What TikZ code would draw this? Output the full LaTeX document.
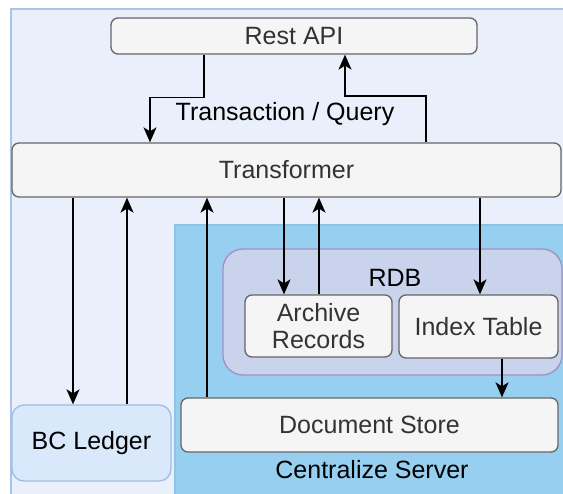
\documentclass[tikz,border=0pt]{standalone}
\usepackage{fontspec}
\setmainfont{Liberation Sans}
\usetikzlibrary{arrows.meta, positioning}
\definecolor{BgFill}{HTML}{E9F0FB}
\definecolor{BgLine}{HTML}{A9C4EB}
\definecolor{ServerFill}{HTML}{97CFF0}
\definecolor{ServerLine}{HTML}{8CC3E6}
\definecolor{RdbFill}{HTML}{C9D3EC}
\definecolor{RdbLine}{HTML}{A58FC2}
\definecolor{BoxFill}{HTML}{F5F5F5}
\definecolor{BoxLine}{HTML}{666666}
\definecolor{BoxText}{HTML}{333333}
\definecolor{LedgerFill}{HTML}{DAE8FC}
\definecolor{LedgerLine}{HTML}{9FBCE6}

\tikzset{
  txt/.style={font=\fontsize{25}{29}\selectfont},
  box/.style={txt, draw=BoxLine, fill=BoxFill, text=BoxText, line width=1.3pt,
    rounded corners=7pt, inner sep=0pt, align=center},
  arr/.style={line width=1.7pt, -{Stealth[length=15pt, width=13pt, inset=4pt]}}
}

\begin{document}
\begin{tikzpicture}[x=1pt, y=-1pt]
        \useasboundingbox (0,0) rectangle (563,494);
        % Hintergrund
        \fill[BgFill] (11,9) rectangle (575,505);
        \draw[BgLine, line width=1.2pt] (11,505) -- (11,9) -- (575,9);
        % Centralize Server
        \fill[ServerFill] (175,225) rectangle (575,505);
        \draw[ServerLine, line width=1.2pt] (175,505) -- (175,225) -- (575,225);
        \node[txt] (servername) at (372,470) {Centralize Server};
        % RDB
        \draw[RdbLine, fill=RdbFill, line width=1.3pt, rounded corners=20pt] (223,249) rectangle (562,375);
        \node[txt] (rdbname) at (395,278) {RDB};
        % Knoten
        \node[box, minimum width=366pt, minimum height=36pt] (restapi) at (294,36) {Rest API};
        \node[box, minimum width=549pt, minimum height=54pt] (transformer) at (286.5,170) {Transformer};
        \node[box, minimum width=147pt, minimum height=62pt, font=\fontsize{25}{27}\selectfont] (archive) at (318.5,326) {Archive\\Records};
        \node[box, minimum width=159pt, minimum height=63pt] (index) at (478.5,326.5) {Index Table};
        \node[box, minimum width=377pt, minimum height=54pt] (docstore) at (369.5,425) {Document Store};
        \node[txt, draw=LedgerLine, fill=LedgerFill, line width=1.3pt, rounded corners=12pt,
          minimum width=159pt, minimum height=76pt, inner sep=0pt] (ledger) at (91.5,443) {BC Ledger};
        \node[txt] (txlabel) at (285,114) {Transaction / Query};
        % Verbindungen
        \draw[arr] (restapi.south -| 204,0) -- ++(0,43) -| (transformer.north -| 150,0);
        \draw[arr] (transformer.north -| 426,0) -- ++(0,-46) -| (restapi.south -| 345,0);
        \draw[arr] (transformer.south -| 73,0) -- (ledger.north -| 73,0);
        \draw[arr] (ledger.north -| 127,0) -- (transformer.south -| 127,0);
        \draw[arr] (docstore.north -| 207,0) -- (transformer.south -| 207,0);
        \draw[arr] (transformer.south -| 284,0) -- (archive.north -| 284,0);
        \draw[arr] (archive.north -| 319,0) -- (transformer.south -| 319,0);
        \draw[arr] (transformer.south -| 480,0) -- (index.north -| 480,0);
        \draw[arr] (index.south -| 502,0) -- (docstore.north -| 502,0);
      \end{tikzpicture}
\end{document}
